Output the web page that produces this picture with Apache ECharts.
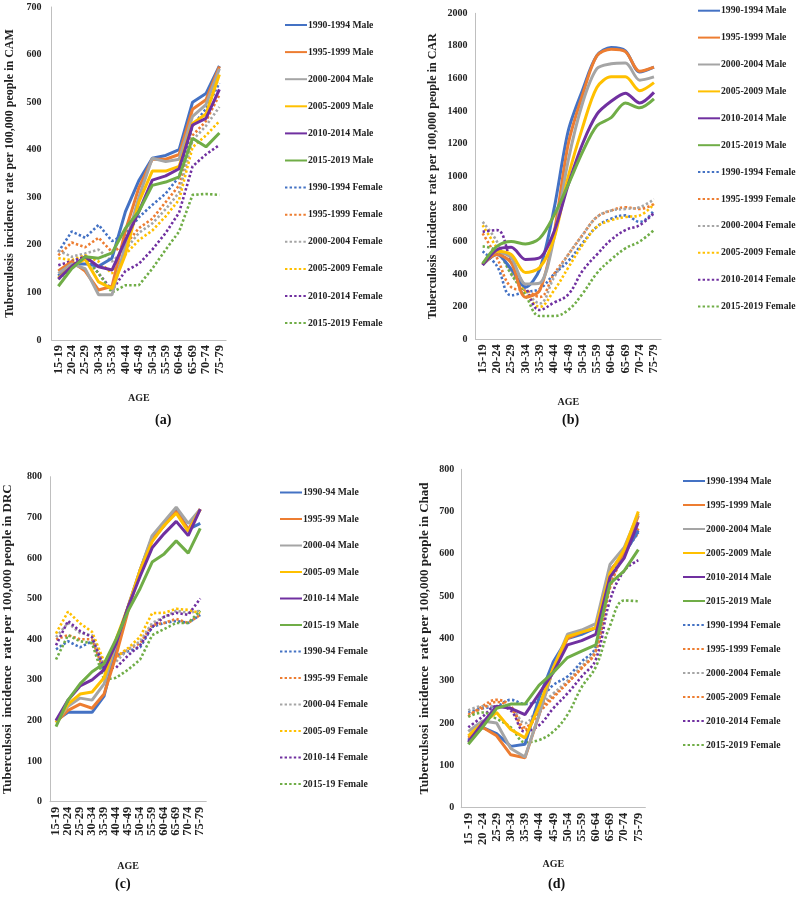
<!DOCTYPE html>
<html><head><meta charset="utf-8">
<script src="https://cdn.jsdelivr.net/npm/echarts@6/dist/echarts.min.js"></script>
<style>html,body{margin:0;padding:0;background:#fff;width:796px;height:901px;overflow:hidden}
.p{position:absolute}</style></head>
<body>
<div id="pa" class="p" style="left:0;top:0;width:398px;height:440px"></div>
<div id="pb" class="p" style="left:398px;top:0;width:398px;height:440px"></div>
<div id="pc" class="p" style="left:0;top:440px;width:398px;height:461px"></div>
<div id="pd" class="p" style="left:398px;top:440px;width:398px;height:461px"></div>
<script>
// ---------- categories ----------
const ageCats = ['15-19','20-24','25-29','30-34','35-39','40-44','45-49','50-54','55-59','60-64','65-69','70-74','75-79'];
const ageCatsChad = ['15 -19','20 -24','25-29','30-34','35-39','40-44','45-49','50-54','55-59','60-64','65-69','70-74','75-79'];

// ---------- legend names ----------
const namesLong = ['1990-1994 Male','1995-1999 Male','2000-2004 Male','2005-2009 Male','2010-2014 Male','2015-2019 Male',
  '1990-1994 Female','1995-1999 Female','2000-2004 Female','2005-2009 Female','2010-2014 Female','2015-2019 Female'];
const namesShort = ['1990-94 Male','1995-99 Male','2000-04 Male','2005-09 Male','2010-14 Male','2015-19 Male',
  '1990-94 Female','1995-99 Female','2000-04 Female','2005-09 Female','2010-14 Female','2015-19 Female'];

// ---------- (a) CAM ----------
const camM1990 = [135,160,160,155,172,270,335,382,388,400,500,518,576];
const camM1995 = [145,165,145,105,113,230,320,380,380,390,485,505,575];
const camM2000 = [140,160,150,95,95,200,300,382,375,380,470,495,570];
const camM2005 = [130,155,170,122,108,180,290,355,355,365,455,475,558];
const camM2010 = [128,155,175,154,147,210,270,336,345,360,452,466,527];
const camM2015 = [113,150,175,172,183,235,270,325,332,343,424,406,435];
const camF1990 = [185,228,215,242,208,222,258,284,308,343,450,486,540];
const camF1995 = [178,205,195,215,185,200,235,255,290,325,430,460,515];
const camF2000 = [188,175,182,190,165,190,225,245,275,310,420,450,490];
const camF2005 = [172,168,178,165,140,180,210,230,260,295,405,430,460];
const camF2010 = [157,166,175,140,105,145,160,190,225,268,365,390,410];
const camF2015 = [128,150,172,140,100,115,115,150,190,228,305,307,305];

// ---------- (b) CAR ----------
const carM1990 = [458,520,430,320,430,800,1280,1530,1740,1790,1770,1640,1670];
const carM1995 = [460,520,470,258,300,650,1200,1500,1740,1780,1765,1645,1670];
const carM2000 = [460,540,500,340,345,620,1100,1450,1660,1690,1695,1590,1610];
const carM2005 = [460,540,520,410,440,620,1000,1300,1545,1610,1610,1525,1575];
const carM2010 = [455,550,565,490,500,660,950,1200,1380,1460,1510,1450,1515];
const carM2015 = [465,570,600,585,620,760,950,1150,1310,1360,1450,1420,1475];
const carF1990 = [540,450,270,290,310,400,480,590,690,740,760,720,790];
const carF1995 = [650,500,320,300,260,400,520,640,750,790,810,800,830];
const carF2000 = [720,600,400,300,220,380,520,640,750,790,800,810,860];
const carF2005 = [700,560,420,290,200,300,440,580,690,730,750,760,830];
const carF2010 = [660,670,480,320,180,225,275,420,520,610,670,700,775];
const carF2015 = [570,540,400,270,143,143,180,280,405,490,558,600,670];

// ---------- (c) DRC ----------
const drcM1990 = [200,220,220,220,260,380,480,570,650,680,720,670,685];
const drcM1995 = [195,225,240,230,265,360,470,570,645,680,715,670,720];
const drcM2000 = [195,235,255,250,290,390,480,570,655,690,725,685,720];
const drcM2005 = [195,240,265,270,305,400,480,570,640,680,710,665,720];
const drcM2010 = [200,250,285,300,325,390,480,555,625,660,690,655,720];
const drcM2015 = [185,250,290,320,340,400,470,525,590,610,642,612,673];
const drcF1990 = [375,395,380,395,320,360,370,380,430,440,445,440,460];
const drcF1995 = [400,410,400,400,320,355,375,390,435,440,450,440,460];
const drcF2000 = [405,440,415,410,335,345,375,395,440,455,470,465,470];
const drcF2005 = [414,468,439,418,345,357,378,406,464,465,475,472,464];
const drcF2010 = [385,445,420,405,330,330,360,385,430,455,465,460,500];
const drcF2015 = [350,410,395,390,300,305,325,350,410,425,440,440,470];

// ---------- (d) Chad ----------
const chadM1990 = [160,190,175,145,150,260,345,400,410,425,560,600,655];
const chadM1995 = [165,190,170,125,118,220,330,400,415,425,560,600,690];
const chadM2000 = [180,205,200,140,120,220,330,410,420,435,575,615,695];
const chadM2005 = [170,200,225,185,165,240,330,405,415,425,555,610,700];
const chadM2010 = [155,200,240,235,220,270,320,385,395,410,545,590,675];
const chadM2015 = [150,190,235,245,245,290,320,355,370,385,530,560,610];
const chadF1990 = [225,235,240,255,245,255,290,310,345,380,540,600,650];
const chadF1995 = [215,240,255,240,190,230,265,295,330,370,520,600,650];
const chadF2000 = [230,240,240,235,200,240,270,300,335,375,530,600,660];
const chadF2005 = [220,235,250,235,185,225,260,295,330,370,520,600,660];
const chadF2010 = [190,215,240,230,180,195,235,270,310,350,490,560,585];
const chadF2015 = [215,225,210,190,155,160,180,220,285,333,430,490,488];

const FONT = '"Liberation Serif","Times New Roman",serif';
const C = ['#4472C4','#ED7D31','#A5A5A5','#FFC000','#7030A0','#70AD47'];
const AXIS_GRAY = '#BFBFBF';

function makeSeries(names, sets, colors, smoothM, smoothF) {
  return sets.map((d, i) => {
    const female = i >= 6;
    const col = colors[i];
    return {
      type: 'line', name: names[i], data: d, symbol: 'none', showSymbol: false,
      smooth: female ? smoothF : smoothM,
      z: female ? 2 : 3,
      itemStyle: { color: col },
      lineStyle: female ? { color: col, width: 2.6, type: [2.4, 2.2], cap: 'butt' }
                        : { color: col, width: 3 }
    };
  });
}

function build(id, p) {
  const chart = echarts.init(document.getElementById(id), null, { renderer: 'canvas' });
  chart.setOption({
    animation: false,
    backgroundColor: '#fff',
    grid: { left: p.grid[0], top: p.grid[1], width: p.grid[2], height: p.grid[3], containLabel: false },
    xAxis: {
      type: 'category', data: p.cats, boundaryGap: true,
      name: 'AGE', nameLocation: 'middle', nameGap: p.xNameGap,
      nameTextStyle: { fontFamily: FONT, fontWeight: 'bold', fontSize: 10, color: '#222' },
      axisLine: { lineStyle: { color: AXIS_GRAY, width: 1 } },
      axisTick: { show: false },
      axisLabel: { rotate: 90, interval: 0, margin: 5, fontFamily: FONT, fontWeight: 'bold', fontSize: 12.5, color: '#222' },
      splitLine: { show: false }
    },
    yAxis: {
      type: 'value', min: 0, max: p.ymax, interval: p.yint,
      name: p.yName, nameLocation: 'middle', nameGap: p.yNameGap, nameRotate: 90,
      nameTextStyle: { fontFamily: FONT, fontWeight: 'bold', fontSize: p.yNameSize, color: '#222' },
      axisLine: { show: true, lineStyle: { color: AXIS_GRAY, width: 1 } },
      axisTick: { show: false },
      axisLabel: { margin: p.yLabMargin, fontFamily: FONT, fontWeight: 'bold', fontSize: 10, color: '#222',
                   formatter: v => String(v) },
      splitLine: { show: false }
    },
    legend: {
      orient: 'vertical', left: p.legend[0], top: p.legend[1], padding: 0,
      itemWidth: 22, itemHeight: 12, itemGap: p.legend[2],
      itemStyle: { opacity: 0 },
      textStyle: { fontFamily: FONT, fontWeight: 'bold', fontSize: 9.7, color: '#222', lineHeight: 12, padding: [0,0,0,-4] },
      data: p.names
    },
    graphic: [{
      type: 'text', left: p.tag[0], top: p.tag[1],
      style: { text: p.tagText, font: 'bold 14px ' + FONT, fill: '#111' }
    }],
    series: makeSeries(p.names, p.sets, p.colors, p.smoothM, p.smoothF)
  });
}

build('pa', {
  cats: ageCats, names: namesLong, colors: C.concat(C),
  sets: [camM1990,camM1995,camM2000,camM2005,camM2010,camM2015,camF1990,camF1995,camF2000,camF2005,camF2010,camF2015],
  grid: [51.6, 7, 174.5, 333], ymax: 700, yint: 100,
  yName: 'Tuberculosis  incidence  rate per 100,000 people in CAM', yNameGap: 36, yNameSize: 12, yLabMargin: 10,
  xNameGap: 53, legend: [284, 19, 15.1], tag: [155, 413], tagText: '(a)', smoothM: false, smoothF: false
});
build('pb', {
  cats: ageCats, names: namesLong, colors: C.concat(C),
  sets: [carM1990,carM1995,carM2000,carM2005,carM2010,carM2015,carF1990,carF1995,carF2000,carF2005,carF2010,carF2015],
  grid: [77.5, 13.3, 185.6, 326], ymax: 2000, yint: 200,
  yName: 'Tuberculosis  incidence  rate per 100,000 people in CAR', yNameGap: 37, yNameSize: 12, yLabMargin: 8,
  xNameGap: 58, legend: [299, 4.7, 14.9], tag: [164, 413], tagText: '(b)', smoothM: 0.3, smoothF: 0.4
});
build('pc', {
  cats: ageCats, names: namesShort, colors: C.concat(C),
  sets: [drcM1990,drcM1995,drcM2000,drcM2005,drcM2010,drcM2015,drcF1990,drcF1995,drcF2000,drcF2005,drcF2010,drcF2015],
  grid: [43.75, 36.7, 162.5, 325], ymax: 800, yint: 100,
  yName: 'Tuberculsosi  incidence  rate per 100,000 people in DRC', yNameGap: 36, yNameSize: 13, yLabMargin: 8,
  xNameGap: 60, legend: [279, 46.5, 14.5], tag: [115, 437], tagText: '(c)', smoothM: false, smoothF: false
});
build('pd', {
  cats: ageCatsChad, names: namesLong,
  colors: C.concat(['#4472C4','#ED7D31','#A5A5A5','#ED7D31','#7030A0','#70AD47']),
  sets: [chadM1990,chadM1995,chadM2000,chadM2005,chadM2010,chadM2015,chadF1990,chadF1995,chadF2000,chadF2005,chadF2010,chadF2015],
  grid: [63.2, 29.3, 184.2, 338.4], ymax: 800, yint: 100,
  yName: 'Tuberculsosi  incidence  rate per 100,000 people in Chad', yNameGap: 30, yNameSize: 13, yLabMargin: 7,
  xNameGap: 52, legend: [284, 35, 12], tag: [150, 437], tagText: '(d)', smoothM: false, smoothF: 0.4
});
</script>
</body></html>
